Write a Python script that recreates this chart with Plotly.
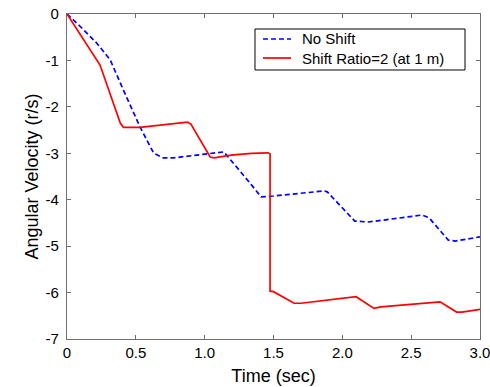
import plotly.graph_objects as go

# Angular velocity response, no shift
t_no_shift = [0.0, 0.10, 0.217, 0.314, 0.41, 0.53, 0.63, 0.70, 0.77, 1.07, 1.14, 1.34,
              1.41, 1.50, 1.87, 1.89, 2.09, 2.19, 2.58, 2.63, 2.77, 2.82, 3.0]
w_no_shift = [0.0, -0.28, -0.63, -0.99, -1.64, -2.43, -3.0, -3.1, -3.1, -3.0, -2.97, -3.68,
              -3.94, -3.92, -3.81, -3.83, -4.46, -4.48, -4.33, -4.39, -4.87, -4.89, -4.80]

# Angular velocity response, shift ratio 2 applied at 1 m
t_shift = [0.0, 0.217, 0.24, 0.387, 0.41, 0.53, 0.875, 0.90, 1.04, 1.07, 1.19, 1.34, 1.46,
           1.475, 1.475, 1.50, 1.65, 1.70, 2.10, 2.23, 2.28, 2.71, 2.83, 2.87, 3.0]
w_shift = [0.0, -0.99, -1.1, -2.35, -2.44, -2.44, -2.33, -2.37, -3.08, -3.1, -3.04, -3.0, -2.99,
           -3.01, -5.97, -5.98, -6.23, -6.23, -6.09, -6.34, -6.31, -6.2, -6.42, -6.42, -6.36]

series_names = ["No Shift", "Shift Ratio=2 (at 1 m)"]
series_colors = ["#0000ff", "#ff0000"]
series_dashes = ["5px,3px", "solid"]

x_ticks = [0, 0.5, 1.0, 1.5, 2.0, 2.5, 3.0]
x_tick_text = ["0", "0.5", "1.0", "1.5", "2.0", "2.5", "3.0"]
y_ticks = [0, -1, -2, -3, -4, -5, -6, -7]
y_tick_text = ["0", "-1", "-2", "-3", "-4", "-5", "-6", "-7"]

font_family = "Arial, Liberation Sans, sans-serif"

fig = go.Figure()
for t, w, name, color, dash in zip([t_no_shift, t_shift], [w_no_shift, w_shift],
                                   series_names, series_colors, series_dashes):
    fig.add_trace(go.Scatter(
        x=t, y=w, mode="lines", name=name, showlegend=False,
        line=dict(color=color, width=1.7, dash=dash),
    ))

# Boxed legend in the upper right of the axes (paper coordinates)
box_x0, box_x1, box_y0, box_y1 = 0.4552, 0.9637, 0.8277, 0.9538
sample_x0, sample_x1, label_x = 0.4746, 0.5424, 0.5642
row_y = [0.9231, 0.8646]
shapes = [dict(type="rect", xref="paper", yref="paper", x0=box_x0, x1=box_x1,
               y0=box_y0, y1=box_y1, line=dict(color="black", width=1),
               fillcolor="white", layer="above")]
annotations = []
for name, color, dash, yy in zip(series_names, series_colors, series_dashes, row_y):
    shapes.append(dict(type="line", xref="paper", yref="paper", x0=sample_x0, x1=sample_x1,
                       y0=yy, y1=yy, line=dict(color=color, width=1.7, dash=dash),
                       layer="above"))
    annotations.append(dict(xref="paper", yref="paper", x=label_x, y=yy, text=name,
                            showarrow=False, xanchor="left", yanchor="middle",
                            font=dict(family=font_family, size=15, color="black")))

axis_common = dict(
    showgrid=False, zeroline=False, showline=True, linecolor="#6e6e6e", linewidth=1.3,
    mirror="ticks", ticks="inside", ticklen=4, tickcolor="#6e6e6e", automargin=False,
    ticklabeloverflow="allow",
    tickfont=dict(family=font_family, size=15, color="black"),
)

fig.update_layout(
    width=490, height=387,
    margin=dict(l=67, r=10, t=14, b=48),
    paper_bgcolor="white", plot_bgcolor="white",
    font=dict(family=font_family, size=15, color="black"),
    showlegend=False,
    shapes=shapes,
    annotations=annotations,
    xaxis=dict(
        range=[0, 3], tickvals=x_ticks, ticktext=x_tick_text,
        title=dict(text="Time (sec)", font=dict(family=font_family, size=18), standoff=9),
        **axis_common,
    ),
    yaxis=dict(
        range=[-7, 0], tickvals=y_ticks, ticktext=y_tick_text, ticklabelstandoff=4,
        title=dict(text="Angular Velocity (r/s)", font=dict(family=font_family, size=18), standoff=2),
        **axis_common,
    ),
)

fig.write_html("out.html")
